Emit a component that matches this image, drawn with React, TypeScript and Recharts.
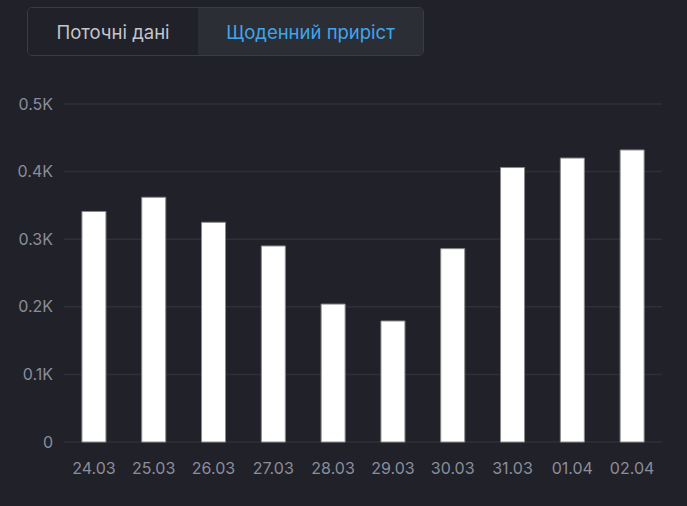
import React from "react";
import { BarChart, Bar, XAxis, YAxis, CartesianGrid } from "recharts";

const categories = ["24.03", "25.03", "26.03", "27.03", "28.03", "29.03", "30.03", "31.03", "01.04", "02.04"];
const values = [341, 362, 325, 290, 204, 179, 286, 406, 420, 432];
const yTicks = [0, 100, 200, 300, 400, 500];
const tabLabels = ["Поточні дані", "Щоденний приріст"];

const data = categories.map((c, i) => ({ date: c, value: values[i] }));

const fmt = (v: number) => (v === 0 ? "0" : `${v / 1000}K`);

const FONT = "Inter, Roboto, sans-serif";

export default function App() {
  return (
    <div
      style={{
        position: "fixed",
        left: 0,
        top: 0,
        width: 687,
        height: 506,
        background: "#202129",
        fontFamily: FONT,
        overflow: "hidden",
      }}
    >
      <div
        style={{
          position: "absolute",
          left: 27,
          top: 7,
          width: 397,
          height: 49,
          boxSizing: "border-box",
          border: "1px solid #3a3c44",
          borderRadius: 5,
          display: "flex",
          overflow: "hidden",
          zIndex: 2,
        }}
      >
        <div
          style={{
            width: 170,
            display: "flex",
            alignItems: "center",
            justifyContent: "center",
            color: "#c4c6cc",
            fontSize: 18.5,
            background: "#202129",
          }}
        >
          {tabLabels[0]}
        </div>
        <div
          style={{
            flex: 1,
            display: "flex",
            alignItems: "center",
            justifyContent: "center",
            color: "#3ea6ec",
            fontSize: 18.5,
            background: "#2c2e36",
          }}
        >
          {tabLabels[1]}
        </div>
      </div>
      <div style={{ position: "absolute", left: 0, top: 0 }}>
        <BarChart
          width={687}
          height={506}
          data={data}
          margin={{ top: 104, right: 25, left: 0, bottom: 34 }}
          barCategoryGap="30%"
        >
          <CartesianGrid vertical={false} stroke="#2e3038" strokeWidth={1.5} />
          <XAxis
            dataKey="date"
            axisLine={false}
            tickLine={false}
            tickMargin={15}
            height={30}
            interval={0}
            tick={{ fill: "#8b8e9a", fontSize: 16, fontFamily: FONT }}
          />
          <YAxis
            width={64}
            domain={[0, 500]}
            ticks={yTicks}
            tickFormatter={fmt}
            axisLine={false}
            tickLine={false}
            tickMargin={5}
            tick={{ fill: "#8b8e9a", fontSize: 16, fontFamily: FONT }}
          />
          <Bar dataKey="value" fill="#ffffff" stroke="#8a8a8a" strokeWidth={1} isAnimationActive={false} />
        </BarChart>
      </div>
    </div>
  );
}
